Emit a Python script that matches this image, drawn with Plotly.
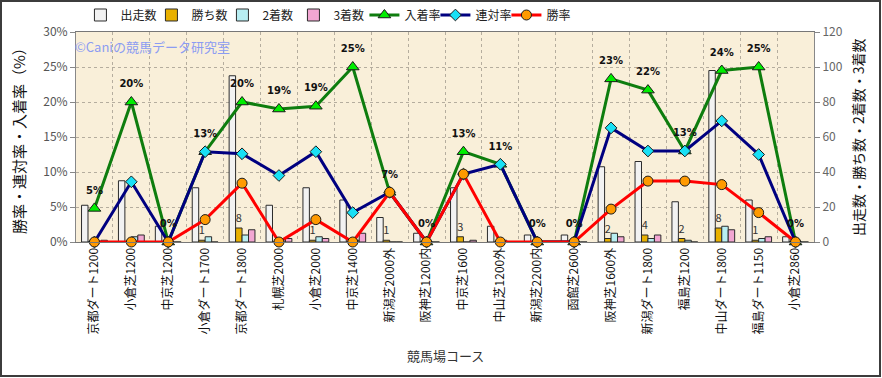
import plotly.graph_objects as go

courses = ["京都ダート1200", "小倉芝1200", "中京芝1200", "小倉ダート1700", "京都ダート1800",
           "札幌芝2000", "小倉芝2000", "中京芝1400", "新潟芝2000外", "阪神芝1200内",
           "中京芝1600", "中山芝1200外", "新潟芝2200内", "函館芝2600", "阪神芝1600外",
           "新潟ダート1800", "福島芝1200", "中山ダート1800", "福島ダート1150", "小倉芝2860"]

runs = [21, 35, 9, 31, 95, 21, 31, 24, 14, 5, 31, 9, 4, 4, 43, 46, 23, 98, 24, 3]
wins = [0, 0, 0, 1, 8, 0, 1, 0, 1, 0, 3, 0, 0, 0, 2, 4, 2, 8, 1, 0]
seconds = [0, 3, 0, 3, 4, 2, 3, 1, 0, 0, 0, 1, 0, 0, 5, 2, 1, 9, 2, 0]
thirds = [1, 4, 0, 0, 7, 2, 2, 5, 0, 0, 1, 0, 0, 0, 3, 4, 0, 7, 3, 0]

place_rate = [4.8, 20.0, 0, 12.9, 20.0, 19.0, 19.4, 25.0, 7.1, 0, 12.9, 11.1, 0, 0, 23.3, 21.7, 13.0, 24.5, 25.0, 0]
rentai_rate = [0, 8.6, 0, 12.9, 12.6, 9.5, 12.9, 4.2, 7.1, 0, 9.7, 11.1, 0, 0, 16.3, 13.0, 13.0, 17.3, 12.5, 0]
win_rate = [0, 0, 0, 3.2, 8.4, 0, 3.2, 0, 7.1, 0, 9.7, 0, 0, 0, 4.7, 8.7, 8.7, 8.2, 4.2, 0]

pct_ticks = [0, 5, 10, 15, 20, 25, 30]
count_ticks = [0, 20, 40, 60, 80, 100, 120]

FONT = "Noto Sans CJK JP"
OUTLINE = "#2b2b2b"

fig = go.Figure()

bar_specs = [
    ("出走数", runs, "#f2f2f2"),
    ("勝ち数", wins, "#e8b000"),
    ("2着数", seconds, "#b8eef2"),
    ("3着数", thirds, "#f2a6d2"),
]
for name, vals, col in bar_specs:
    kw = {}
    if name == "勝ち数":
        kw = dict(text=[str(v) if v > 0 else "" for v in vals], textposition="outside",
                  constraintext="none", cliponaxis=False,
                  textfont=dict(size=11, color="#333333", family=FONT))
    fig.add_trace(go.Bar(x=courses, y=vals, name=name, yaxis="y",
                         marker=dict(color=col, line=dict(color=OUTLINE, width=1)),
                         hoverinfo="skip", **kw))

line_specs = [
    ("入着率", place_rate, "#0e7d0e", "triangle-up", "#00ee00", 11),
    ("連対率", rentai_rate, "#000080", "diamond", "#19e0f5", 9),
    ("勝率", win_rate, "#ff0000", "circle", "#ff9a00", 10),
]
for name, vals, lc, sym, mc, ms in line_specs:
    fig.add_trace(go.Scatter(x=courses, y=vals, name=name, yaxis="y2", mode="lines+markers",
                             line=dict(color=lc, width=3),
                             marker=dict(symbol=sym, color=mc, size=ms,
                                         line=dict(color="#1a1a1a", width=1)),
                             cliponaxis=False))

fig.add_trace(go.Scatter(x=courses, y=place_rate, yaxis="y2", mode="markers+text",
                         text=[f"{v:.0f}%" for v in place_rate], textposition="top center",
                         textfont=dict(size=10, color="#111111", family="DejaVu Sans", weight="bold"),
                         marker=dict(size=18, color="rgba(0,0,0,0)"),
                         showlegend=False, hoverinfo="skip", cliponaxis=False))

fig.update_layout(
    width=882, height=378,
    margin=dict(l=76, r=68, t=32, b=136, autoexpand=False),
    paper_bgcolor="white",
    plot_bgcolor="#f9efd9",
    barmode="group", bargap=0.3, bargroupgap=0,
    font=dict(family=FONT, size=12, color="#222222"),
    showlegend=True,
    legend=dict(orientation="h", x=0.006, xanchor="left", y=1.081, yanchor="middle",
                font=dict(size=12, family=FONT, color="#222222"),
                entrywidth=26, entrywidthmode="pixels", traceorder="normal",
                bgcolor="rgba(0,0,0,0)", itemwidth=30),
    xaxis=dict(type="category", range=[-0.5, len(courses) - 0.5], tickangle=-90,
               tickson="boundaries", ticks="", automargin=False,
               showgrid=True, griddash="dot", gridcolor="#b5ad9e", gridwidth=1,
               showline=True, linecolor="#777777", linewidth=1, mirror=True,
               tickfont=dict(size=12, color="#111111", family=FONT)),
    yaxis=dict(side="right", range=[0, 120], tickvals=count_ticks, automargin=False,
               showgrid=True, griddash="dot", gridcolor="#b5ad9e",
               showline=True, linecolor="#888888", ticks="outside", ticklen=5, tickcolor="#888888",
               tickfont=dict(size=12, color="#666666", family=FONT), zeroline=False),
    yaxis2=dict(side="left", overlaying="y", range=[0, 30], tickvals=pct_ticks, automargin=False,
                ticktext=[f"{v}%" for v in pct_ticks], showgrid=False,
                showline=True, linecolor="#888888", ticks="outside", ticklen=5, tickcolor="#888888",
                tickfont=dict(size=12, color="#555555", family=FONT), zeroline=False),
    annotations=[
        dict(text="©Caniの競馬データ研究室", xref="paper", yref="paper", x=-0.004, y=0.929,
             xanchor="left", yanchor="middle", showarrow=False,
             font=dict(size=13, color="#8c9cf2", family=FONT)),
        dict(text="勝率・連対率・入着率（%）", xref="paper", yref="paper", x=-0.0786, y=0.5,
             xanchor="center", yanchor="middle", textangle=-90, showarrow=False,
             font=dict(size=15, color="#111111", family=FONT)),
        dict(text="出走数・勝ち数・2着数・3着数", xref="paper", yref="paper", x=1.0596, y=0.5,
             xanchor="center", yanchor="middle", textangle=-90, showarrow=False,
             font=dict(size=14, color="#111111", family=FONT)),
        dict(text="競馬場コース", xref="paper", yref="paper", x=0.5, y=(242 - 356) / 210,
             xanchor="center", yanchor="middle", showarrow=False,
             font=dict(size=13, color="#333333", family=FONT)),
    ],
    shapes=[
        dict(type="rect", xref="paper", yref="paper",
             x0=(1 - 76) / 738, x1=(880 - 76) / 738, y0=(242 - 376) / 210, y1=(242 - 1) / 210,
             line=dict(color="#3c3c3c", width=2), fillcolor="rgba(0,0,0,0)", layer="below"),
    ],
)

fig.write_html("out.html", config={"displayModeBar": False},
               post_script="document.body.style.margin='0';")
